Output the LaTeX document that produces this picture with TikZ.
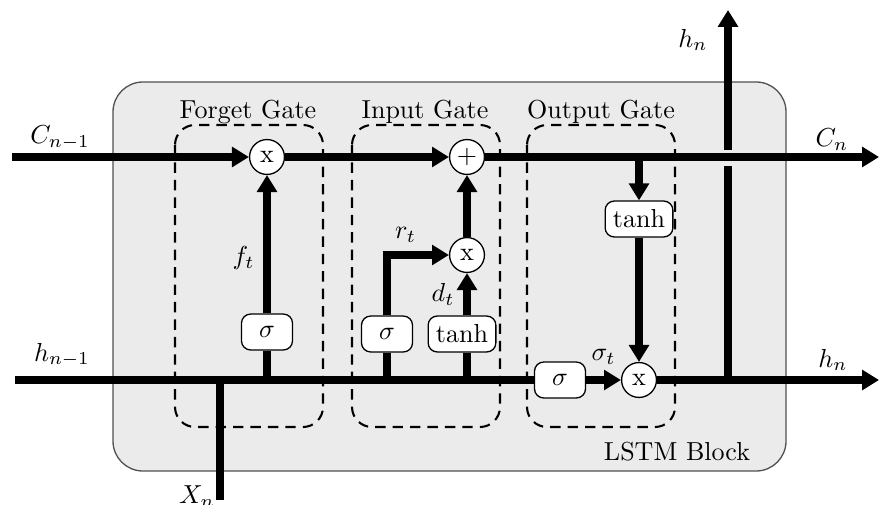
\documentclass[tikz,border=0pt]{standalone}
\usetikzlibrary{arrows.meta}
\definecolor{blockfill}{RGB}{235,235,235}
\definecolor{blockedge}{RGB}{80,80,80}
\begin{document}
\begin{tikzpicture}[x=0.0135cm,y=-0.0135cm,
  flow/.style={line width=3pt},
  arr/.style={flow,-{Triangle[length=6.5pt,width=7.5pt]}},
  op/.style={circle,draw,line width=0.5pt,fill=white,minimum size=13.4pt,inner sep=0pt},
  act/.style={rounded corners=3.5pt,draw,line width=0.5pt,fill=white,minimum width=19.6pt,minimum height=13.8pt,inner xsep=3pt,inner ysep=0pt},
  gatebox/.style={draw,line width=0.8pt,dash pattern=on 4pt off 2.7pt,rounded corners=7.7pt},
  blockbox/.style={draw=blockedge,fill=blockfill,line width=0.5pt,rounded corners=11.5pt}]
\useasboundingbox (0,0) rectangle (879,504);
\draw[blockbox] (113,82) rectangle (786,471);
\draw[gatebox] (175,125) rectangle (323,427);
\draw[gatebox] (352,125) rectangle (500,427);
\draw[gatebox] (527,125) rectangle (675,427);
\node (lf) at (248,112) {Forget Gate};
\node (li) at (425,112) {Input Gate};
\node (lo) at (601,112) {Output Gate};
\node (lb) at (677,452) {LSTM Block};
% coordinates
\coordinate (cin) at (12,157);
\coordinate (cout) at (879,157);
\coordinate (hin) at (15,380);
\coordinate (hout) at (879,380);
\coordinate (xb) at (220,500);
\coordinate (xj) at (220,380);
\coordinate (hv) at (728,380);
\coordinate (gapb) at (728,166);
\coordinate (gapt) at (728,150);
\coordinate (hvtop) at (728,10);
% nodes
\node[op] (fx) at (267,157) {x};
\node[op] (plus) at (467,157) {$+$};
\node[op] (ix) at (467,255) {x};
\node[op] (ox) at (639,380) {x};
\node[act] (fs) at (267,332) {$\sigma$};
\node[act] (is) at (387,334) {$\sigma$};
\node[act] (it) at (462,334) {tanh};
\node[act] (ot) at (639,219) {tanh};
\node[act] (os) at (560,380) {$\sigma$};
% connectors
\draw[flow] (hin) -- (os);
\draw[arr] (os) -- (ox) node[midway,above=1pt] {$\sigma_t$};
\draw[arr] (ox) -- (hout);
\draw[flow] (xb) -- (xj);
\draw[arr] (cin) -- (fx);
\draw[arr] (fx) -- (plus);
\draw[arr] (plus) -- (cout);
\draw[arr] (ot |- cout) -- (ot);
\draw[arr] (ot) -- (ox);
\draw[flow] (fs |- hin) -- (fs);
\draw[arr] (fs) -- (fx) node[pos=0.4,left] {$f_t$};
\draw[flow] (is |- hin) -- (is);
\draw[arr] (is) |- (ix) node[pos=0.65,above] {$r_t$};
\draw[flow] (ix |- hin) -- (ix |- it.south);
\draw[arr] (ix |- it.north) -- (ix) node[midway,left] {$d_t$};
\draw[arr] (ix) -- (plus);
\draw[flow] (hv) -- (gapb);
\draw[arr] (gapt) -- (hvtop);
% labels
\node (lcin) at (60,138) {$C_{n-1}$};
\node (lhin) at (62,355) {$h_{n-1}$};
\node (lcout) at (832,140) {$C_n$};
\node (lhout) at (833,360) {$h_n$};
\node (lhtop) at (693,40) {$h_n$};
\node (lx) at (197,497) {$X_n$};
\end{tikzpicture}
\end{document}
